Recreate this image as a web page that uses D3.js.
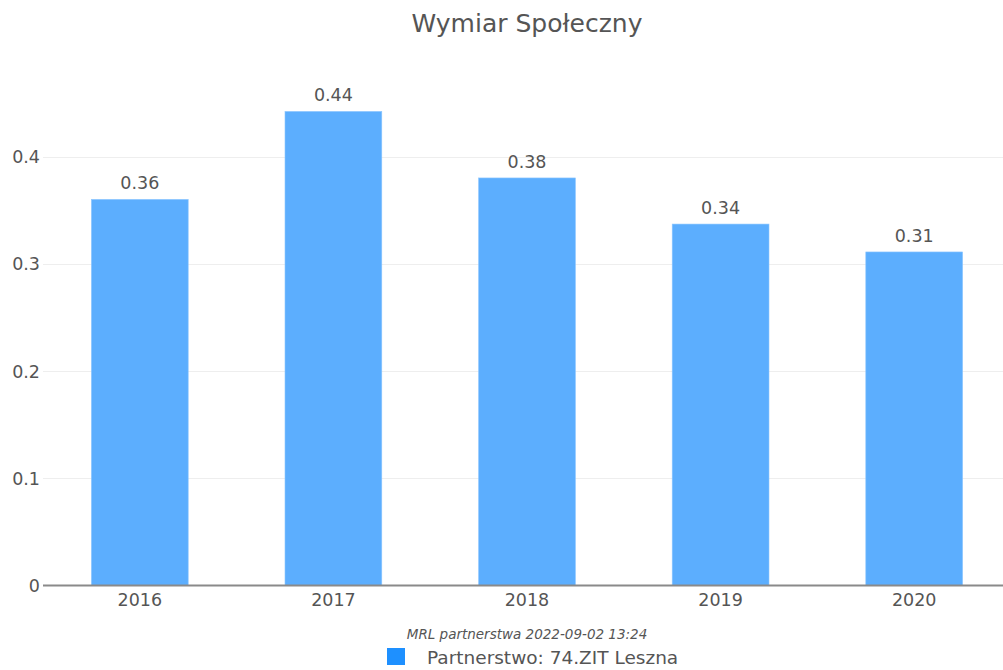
<!DOCTYPE html>
<html><head><meta charset="utf-8">
<script src="https://cdn.jsdelivr.net/npm/d3@7"></script>
<style>html,body{margin:0;padding:0;background:#fff;overflow:hidden}</style>
</head><body>
<script>
const categories = ["2016","2017","2018","2019","2020"];
const values = [0.36, 0.442, 0.38, 0.337, 0.311];
const labels = ["0.36","0.44","0.38","0.34","0.31"];
const yTicks = [0, 0.1, 0.2, 0.3, 0.4];
const title = "Wymiar Społeczny";
const caption = "MRL partnerstwa 2022-09-02 13:24";
const seriesName = "Partnerstwo: 74.ZIT Leszna";

const W = 1003, H = 670;
const font = "'DejaVu Sans', Verdana, sans-serif";
const svg = d3.select("body").append("svg").attr("width", W).attr("height", H);

const x = d3.scaleBand().domain(categories).range([43, 1011]).paddingInner(0.5).paddingOuter(0.25);
const y = d3.scaleLinear().domain([0, 0.4]).range([585.5, 156.5]);

// gridlines
svg.append("g").selectAll("line").data(yTicks.filter(d => d > 0)).join("line")
  .attr("x1", 43).attr("x2", W).attr("y1", d => Math.round(y(d)) + 0.5).attr("y2", d => Math.round(y(d)) + 0.5)
  .attr("stroke", "#eeeeee").attr("stroke-width", 1);

// bars
svg.append("g").selectAll("rect").data(categories).join("rect")
  .attr("x", d => x(d)).attr("width", x.bandwidth())
  .attr("y", (d, i) => y(values[i])).attr("height", (d, i) => y(0) - y(values[i]))
  .attr("fill", "#5caefe").attr("stroke", "#8cc6ff").attr("stroke-width", 0.6);

// value labels
svg.append("g").selectAll("text").data(categories).join("text")
  .attr("x", d => x(d) + x.bandwidth() / 2).attr("y", (d, i) => y(values[i]) - 10)
  .attr("text-anchor", "middle").attr("font-family", font).attr("font-size", 17.5).attr("fill", "#555")
  .text((d, i) => labels[i]);

// axis line
svg.append("line").attr("x1", 43).attr("x2", W).attr("y1", 585.5).attr("y2", 585.5)
  .attr("stroke", "#8a8a8a").attr("stroke-width", 2);

// y tick labels
svg.append("g").selectAll("text").data(yTicks).join("text")
  .attr("x", 40).attr("y", d => y(d) + 6.5).attr("text-anchor", "end")
  .attr("font-family", font).attr("font-size", 17.5).attr("fill", "#555")
  .text(d => d3.format("")(d));

// x tick labels
svg.append("g").selectAll("text").data(categories).join("text")
  .attr("x", d => x(d) + x.bandwidth() / 2).attr("y", 606)
  .attr("text-anchor", "middle").attr("font-family", font).attr("font-size", 17.5).attr("fill", "#555")
  .text(d => d);

// title
svg.append("text").attr("x", 527).attr("y", 32).attr("text-anchor", "middle")
  .attr("font-family", font).attr("font-size", 25).attr("fill", "#555").text(title);

// caption
svg.append("text").attr("x", 527).attr("y", 639).attr("text-anchor", "middle")
  .attr("font-family", font).attr("font-size", 13.5).attr("font-style", "italic").attr("fill", "#555").text(caption);

// legend
svg.append("rect").attr("x", 387).attr("y", 648).attr("width", 18).attr("height", 17).attr("fill", "#1e90ff");
svg.append("text").attr("x", 427).attr("y", 664).attr("font-family", font).attr("font-size", 18.5)
  .attr("fill", "#555").text(seriesName);
</script>
</body></html>
